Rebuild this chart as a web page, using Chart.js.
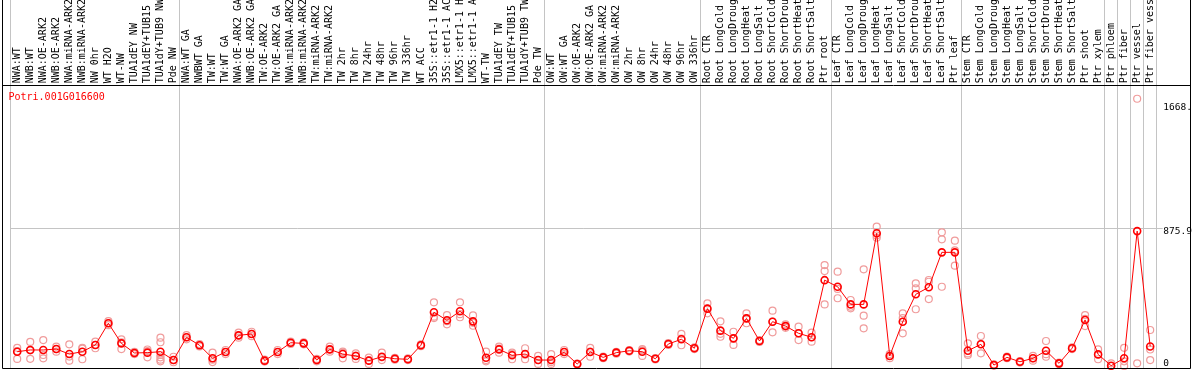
<!DOCTYPE html>
<html>
<head>
<meta charset="utf-8">
<title>Potri.001G016600</title>
<script src="https://cdn.jsdelivr.net/npm/chart.js@4.4.1/dist/chart.umd.min.js"></script>
<style>
  html, body { margin: 0; padding: 0; background: #fff; }
  canvas { display: block; }
</style>
</head>
<body>
<canvas id="c" width="1194" height="370"></canvas>
<script>
// ── Data ──────────────────────────────────────────────────────────────────────
const geneId = 'Potri.001G016600';

const samples = [
  'NWA:WT', 'NWB:WT', 'NWA:OE-ARK2', 'NWB:OE-ARK2', 'NWA:miRNA-ARK2', 'NWB:miRNA-ARK2',
  'NW 0hr', 'WT H2O', 'WT-NW', 'TUA1dEY NW', 'TUA1dEY+TUB15 NW', 'TUA1dY+TUB9 NW', 'Pde NW',
  'NWA:WT GA', 'NWBWT GA', 'TW:WT', 'TW:WT GA', 'NWA:OE-ARK2 GA', 'NWB:OE-ARK2 GA',
  'TW:OE-ARK2', 'TW:OE-ARK2 GA', 'NWA:miRNA-ARK2', 'NWB:miRNA-ARK2', 'TW:miRNA-ARK2',
  'TW:miRNA-ARK2', 'TW 2hr', 'TW 8hr', 'TW 24hr', 'TW 48hr', 'TW 96hr', 'TW 336hr',
  'WT ACC', '35S::etr1-1 H2O', '35S::etr1-1 ACC', 'LMX5::etr1-1 H2O', 'LMX5::etr1-1 ACC',
  'WT-TW', 'TUA1dEY TW', 'TUA1dEY+TUB15 TW', 'TUA1dY+TUB9 TW', 'Pde TW',
  'OW:WT', 'OW:WT GA', 'OW:OE-ARK2', 'OW:OE-ARK2 GA', 'OW:miRNA-ARK2', 'OW:miRNA-ARK2',
  'OW 2hr', 'OW 8hr', 'OW 24hr', 'OW 48hr', 'OW 96hr', 'OW 336hr',
  'Root CTR', 'Root LongCold', 'Root LongDrought', 'Root LongHeat', 'Root LongSalt',
  'Root ShortCold', 'Root ShortDrought', 'Root ShortHeat', 'Root ShortSalt', 'Ptr root',
  'Leaf CTR', 'Leaf LongCold', 'Leaf LongDrought', 'Leaf LongHeat', 'Leaf LongSalt',
  'Leaf ShortCold', 'Leaf ShortDrought', 'Leaf ShortHeat', 'Leaf ShortSalt', 'Ptr leaf',
  'Stem CTR', 'Stem LongCold', 'Stem LongDrought', 'Stem LongHeat', 'Stem LongSalt',
  'Stem ShortCold', 'Stem ShortDrought', 'Stem ShortHeat', 'Stem ShortSalt', 'Ptr shoot', 'Ptr xylem',
  'Ptr phloem', 'Ptr fiber', 'Ptr vessel', 'Ptr fiber vessel'
];

// number of samples in each block, separated by grey lines
const groupSizes = [13, 28, 12, 10, 10, 11, 1, 1, 1, 1];

// mean expression per sample
const means = [
  91, 102, 102, 108, 76, 91, 134, 272, 144, 83, 85, 91, 38,
  183, 132, 49, 89, 195, 204, 34, 89, 148, 144, 38, 106, 76, 64, 34, 59, 46, 43,
  132, 342, 291, 348, 284, 53, 106, 68, 76, 38,
  38, 89, 13, 89, 55, 85, 97, 91, 46, 140, 170, 113,
  365, 225, 176, 303, 159, 282, 254, 208, 183, 546,
  504, 392, 392, 844, 64, 282, 456, 501, 723, 723,
  97, 138, 6, 55, 27, 49, 97, 17, 113, 293, 74,
  2, 49, 858, 124
];

// individual replicates
const rep1 = [
  116, 153, 165, 123, 138, 116, 155, 285, 170, 90, 105, 180, 59,
  197, 140, 85, 102, 212, 218, 40, 102, 155, 150, 45, 123, 91, 81, 53, 85, 52, 48,
  138, 405, 324, 405, 322, 91, 123, 85, 113, 64,
  76, 102, 16, 116, 60, 90, 102, 108, 50, 146, 204, 118,
  399, 284, 218, 335, 165, 352, 265, 250, 212, 642,
  600, 420, 615, 886, 76, 335, 526, 547, 850, 797,
  144, 191, 10, 60, 32, 64, 159, 22, 118, 324, 106,
  17, 116, 1700, 229
];
const rep2 = [
  95, 100, 70, 108, 60, 110, 134, 272, 150, 83, 95, 151, 38,
  183, 132, 40, 89, 195, 204, 34, 89, 148, 144, 38, 106, 85, 66, 36, 55, 46, 43,
  132, 314, 285, 330, 275, 38, 110, 75, 72, 38,
  25, 89, 13, 92, 55, 85, 97, 100, 46, 140, 175, 113,
  365, 205, 176, 303, 159, 282, 254, 208, 183, 604,
  490, 377, 320, 830, 64, 305, 494, 536, 806, 735,
  80, 140, 6, 55, 27, 49, 75, 17, 113, 300, 74,
  0, 30, 17, 105
];
const rep3 = [
  45, 46, 49, 91, 34, 43, 113, 260, 108, 76, 55, 70, 24,
  170, 124, 25, 76, 180, 190, 28, 76, 140, 138, 30, 91, 49, 45, 13, 38, 40, 38,
  126, 305, 265, 310, 256, 30, 85, 43, 43, 13,
  13, 76, 10, 59, 50, 78, 92, 64, 42, 134, 132, 108,
  335, 186, 134, 272, 153, 214, 243, 165, 155, 392,
  431, 367, 240, 816, 50, 208, 361, 426, 504, 638,
  70, 81, 2, 50, 22, 34, 59, 12, 108, 254, 43,
  0, 0, null, 38
];
// extra replicates where a sample has more than three
const extraReps = [
  { x: 'TUA1dY+TUB9 NW', y: 55 },
  { x: 'TUA1dY+TUB9 NW', y: 40 },
  { x: 'TUA1dY+TUB9 NW', y: 30 }
];

const yTicks = [0, 875.9, 1668];
const yTickText = { 0: '0', 875.9: '875.9', 1668: '1668.' };

// ── Styling ───────────────────────────────────────────────────────────────────
const MONO = '"DejaVu Sans Mono", "Liberation Mono", monospace';
const RED = '#ff0000';
const PINK = '#f09c9c';
const GRID = '#c4c4c4';

// grid line indices that start a new block (+ closing line)
const blockStarts = [];
groupSizes.reduce((acc, n) => { blockStarts.push(acc); return acc + n; }, 0);

function repDataset(data) {
  return {
    data,
    showLine: false,
    pointRadius: 3.5,
    pointBorderWidth: 1.2,
    pointBorderColor: PINK,
    pointBackgroundColor: 'transparent',
    clip: false,
  };
}

// black frame + gene id label
const framePlugin = {
  id: 'frame',
  afterDraw(chart) {
    const { ctx, chartArea: a, width } = chart;
    const left = 2.5, right = width - 3.5;
    ctx.save();
    ctx.strokeStyle = '#000';
    ctx.lineWidth = 1;
    ctx.beginPath();
    ctx.moveTo(left, 0); ctx.lineTo(left, a.bottom - 0.5);
    ctx.lineTo(right, a.bottom - 0.5); ctx.lineTo(right, 0);
    ctx.moveTo(left, a.top - 0.5); ctx.lineTo(right, a.top - 0.5);
    ctx.stroke();
    ctx.fillStyle = RED;
    ctx.font = '10px ' + MONO;
    ctx.textBaseline = 'middle';
    ctx.fillText(geneId, left + 6, a.top + 11);
    ctx.restore();
  }
};

new Chart(document.getElementById('c'), {
  type: 'line',
  data: {
    labels: samples,
    datasets: [
      {
        label: geneId,
        data: means,
        borderColor: RED,
        borderWidth: 1,
        tension: 0,
        pointRadius: 3.5,
        pointBorderWidth: 1.6,
        pointBorderColor: RED,
        pointBackgroundColor: 'transparent',
        clip: false,
      },
      repDataset(rep1),
      repDataset(rep2),
      repDataset(rep3),
      repDataset(extraReps),
    ]
  },
  options: {
    responsive: false,
    animation: false,
    layout: { autoPadding: false, padding: { left: 10.7, right: 0, top: 0, bottom: 1 } },
    plugins: { legend: { display: false }, tooltip: { enabled: false } },
    scales: {
      x: {
        position: 'top',
        offset: true,
        border: { display: false },
        grid: {
          offset: true,
          tickLength: 86,
          lineWidth: 1,
          color: c => (c.index === undefined || blockStarts.includes(c.index)) ? GRID : 'transparent',
        },
        ticks: {
          autoSkip: false,
          minRotation: 90,
          maxRotation: 90,
          padding: -83.3,
          labelOffset: 12,
          color: '#000',
          font: { family: MONO, size: 10 },
        },
        afterFit: s => { s.height = 86; s.paddingLeft = 0; s.paddingRight = 0; },
      },
      y: {
        position: 'right',
        min: -19,
        max: 1781,
        border: { display: false },
        afterBuildTicks: s => { s.ticks = yTicks.map(v => ({ value: v })); },
        grid: {
          tickLength: 6,
          color: c => (c.tick && c.tick.value === 875.9) ? GRID : 'transparent',
        },
        ticks: {
          padding: 0.6,
          labelOffset: 3.4,
          color: '#000',
          font: { family: MONO, size: 9.5 },
          callback: v => v === 0 ? ['0', ''] : yTickText[v],
        },
        afterFit: s => { s.width = 37.3; s.paddingTop = 0; s.paddingBottom = 0; },
      }
    }
  },
  plugins: [framePlugin]
});
</script>
</body>
</html>
